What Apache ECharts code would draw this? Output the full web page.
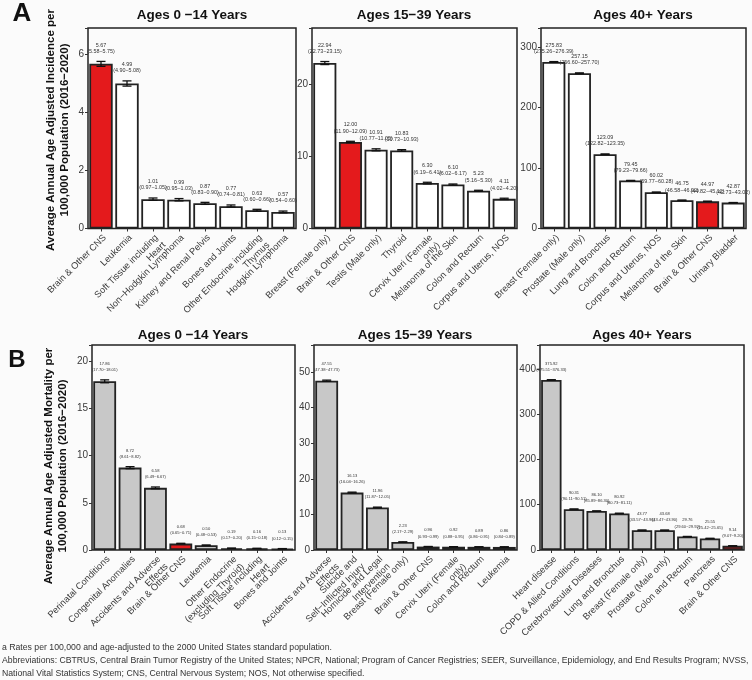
<!DOCTYPE html>
<html>
<head>
<meta charset="utf-8">
<script src="https://cdn.jsdelivr.net/npm/echarts@6/dist/echarts.min.js"></script>
<style>html,body{margin:0;padding:0;background:#fbfbfb;}#c{width:752px;height:680px;}</style>
</head>
<body>
<div id="c"></div>
<script>
// ---------- DATA ----------
const a1Cats = ['Brain & Other CNS','Leukemia','Soft Tissue including\nHeart','Non\u2212Hodgkin Lymphoma','Kidney and Renal Pelvis','Bones and Joints','Other Endocrine including\nThymus','Hodgkin Lymphoma'];
const a1Vals = [5.67,4.99,1.01,0.99,0.87,0.77,0.63,0.57];
const a1Lo   = [5.58,4.90,0.97,0.95,0.83,0.74,0.60,0.54];
const a1Hi   = [5.75,5.08,1.05,1.03,0.90,0.81,0.66,0.60];

const a2Cats = ['Breast (Female only)','Brain & Other CNS','Testis (Male only)','Thyroid','Cervix Uteri (Female\nonly)','Melanoma of the Skin','Colon and Rectum','Corpus and Uterus, NOS'];
const a2Vals = [22.94,12.00,10.91,10.83,6.30,6.10,5.23,4.11];
const a2Lo   = [22.73,11.90,10.77,10.73,6.19,6.02,5.16,4.02];
const a2Hi   = [23.15,12.09,11.05,10.93,6.41,6.17,5.30,4.20];

const a3Cats = ['Breast (Female only)','Prostate (Male only)','Lung and Bronchus','Colon and Rectum','Corpus and Uterus, NOS','Melanoma of the Skin','Brain & Other CNS','Urinary Bladder'];
const a3Vals = [275.83,257.15,123.09,79.45,60.02,46.75,44.97,42.87];
const a3Lo   = [275.26,256.60,122.82,79.23,59.77,46.58,44.82,42.73];
const a3Hi   = [276.39,257.70,123.35,79.66,60.28,46.92,45.12,43.02];

const b1Cats = ['Perinatal Conditions','Congenital Anomalies','Accidents and Adverse\nEffects','Brain & Other CNS','Leukemia','Other Endocrine\n(excluding Thyroid)','Soft Tissue including\nHeart','Bones and Joints'];
const b1Vals = [17.86,8.72,6.58,0.68,0.50,0.19,0.16,0.13];
const b1Lo   = [17.70,8.61,6.49,0.65,0.48,0.17,0.15,0.12];
const b1Hi   = [18.01,8.82,6.67,0.71,0.53,0.20,0.18,0.15];

const b2Cats = ['Accidents and Adverse\nEffects','Suicide and\nSelf\u2212Inflicted Injury','Homicide and Legal\nIntervention','Breast (Female only)','Brain & Other CNS','Cervix Uteri (Female\nonly)','Colon and Rectum','Leukemia'];
const b2Vals = [47.55,16.13,11.96,2.23,0.96,0.92,0.89,0.86];
const b2Lo   = [47.38,16.04,11.87,2.17,0.93,0.88,0.86,0.84];
const b2Hi   = [47.73,16.26,12.05,2.29,0.99,0.95,0.91,0.89];

const b3Cats = ['Heart disease','COPD & Allied Conditions','Cerebrovascular Diseases','Lung and Bronchus','Breast (Female only)','Prostate (Male only)','Colon and Rectum','Pancreas','Brain & Other CNS'];
const b3Vals = [375.92,90.31,86.10,80.92,43.77,43.68,29.76,25.55,9.14];
const b3Lo   = [375.51,90.11,85.89,80.73,43.57,43.47,29.60,25.42,9.07];
const b3Hi   = [376.33,90.51,86.30,81.11,43.96,43.90,29.92,25.65,9.20];

const highlightIdx = { a1: 0, a2: 1, a3: 6, b1: 3, b2: 4, b3: 8 };
const yTicksInterval = { a1: 2, a2: 10, a3: 100, b1: 5, b2: 10, b3: 100 };
const yMax = { a1: 6.9, a2: 27.8, a3: 332, b1: 21.7, b2: 57.6, b3: 453 };

const titleText = 'Ages 0 \u221214 Years';
const titleText2 = 'Ages 15\u221239 Years';
const titleText3 = 'Ages 40+ Years';

// ---------- LAYOUT ----------
const panels = [
  {key:'a1', cats:a1Cats, vals:a1Vals, lo:a1Lo, hi:a1Hi, left:88, top:28, width:208, height:200.5, fill:'#ffffff', lab:5.4, lh:6.2},
  {key:'a2', cats:a2Cats, vals:a2Vals, lo:a2Lo, hi:a2Hi, left:312, top:28, width:205, height:200.5, fill:'#ffffff', lab:5.4, lh:6.2},
  {key:'a3', cats:a3Cats, vals:a3Vals, lo:a3Lo, hi:a3Hi, left:541, top:28, width:205, height:200.5, fill:'#ffffff', lab:5.4, lh:6.2},
  {key:'b1', cats:b1Cats, vals:b1Vals, lo:b1Lo, hi:b1Hi, left:92, top:345, width:203, height:205, fill:'#c8c8c8', lab:4.1, lh:6.2},
  {key:'b2', cats:b2Cats, vals:b2Vals, lo:b2Lo, hi:b2Hi, left:314, top:345, width:203, height:205, fill:'#c8c8c8', lab:4.1, lh:6.2},
  {key:'b3', cats:b3Cats, vals:b3Vals, lo:b3Lo, hi:b3Hi, left:540, top:345, width:204, height:205, fill:'#c8c8c8', lab:4.1, lh:6.2}
];

const F = 'Liberation Sans, Arial, sans-serif';
const RED = '#e41a1c';
const grids = [], xAxes = [], yAxes = [], series = [];
panels.forEach((p, k) => {
  grids.push({left:p.left, top:p.top, width:p.width, height:p.height, show:true, borderColor:'#222', borderWidth:1.5, backgroundColor:'transparent', containLabel:false});
  xAxes.push({type:'category', gridIndex:k, data:p.cats,
    axisLine:{show:false}, axisTick:{show:true, alignWithLabel:true, length:3, lineStyle:{color:'#333'}},
    axisLabel:{rotate:45, interval:0, fontSize:9.3, color:'#3a3a3a', margin:4, lineHeight:10.5, verticalAlign:'top', fontFamily:F}});
  const iv = yTicksInterval[p.key];
  yAxes.push({type:'value', gridIndex:k, min:0, max:yMax[p.key], interval:iv,
    axisLine:{show:false}, splitLine:{show:false},
    axisTick:{show:true, length:3, lineStyle:{color:'#333'}},
    axisLabel:{fontSize:10, color:'#3a3a3a', margin:4, fontFamily:F,
      formatter: v => (Math.abs(v/iv - Math.round(v/iv)) < 1e-6 ? String(v) : '')}});
  const hl = highlightIdx[p.key];
  series.push({type:'bar', xAxisIndex:k, yAxisIndex:k, barCategoryGap:'10%',
    data:p.vals.map((v,i)=>({value:v, itemStyle:{color: i===hl ? RED : p.fill}})),
    itemStyle:{borderColor:'#222', borderWidth:1.8}, silent:true, animation:false});
  const labSize = p.lab, lh = p.lh;
  series.push({type:'custom', xAxisIndex:k, yAxisIndex:k, animation:false, silent:true, z:10,
    data:p.vals.map((v,i)=>[i, v, p.lo[i], p.hi[i]]),
    renderItem:(params, api)=>{
      const i = api.value(0);
      const v = api.value(1), lo = api.value(2), hi = api.value(3);
      const pl = api.coord([i, lo]);
      const ph = api.coord([i, hi]);
      const x = ph[0], cap = 4.5;
      const st = {stroke:'#111', lineWidth:1.3};
      return {type:'group', children:[
        {type:'line', shape:{x1:x, y1:pl[1], x2:x, y2:ph[1]}, style:st},
        {type:'line', shape:{x1:x-cap, y1:pl[1], x2:x+cap, y2:pl[1]}, style:st},
        {type:'line', shape:{x1:x-cap, y1:ph[1], x2:x+cap, y2:ph[1]}, style:st},
        {type:'text', x:x, y:ph[1]-7, style:{text: v.toFixed(2)+'\n('+lo.toFixed(2)+'\u2212'+hi.toFixed(2)+')',
          align:'center', verticalAlign:'bottom', fontSize:labSize, lineHeight:lh, fill:'#333', fontFamily:F}}
      ]};
    }});
});

const graphics = [
  {type:'text', x:22, y:14, style:{text:'A', font:'bold 26px '+F, fill:'#111', align:'center', verticalAlign:'middle'}},
  {type:'text', x:17, y:360, style:{text:'B', font:'bold 24px '+F, fill:'#111', align:'center', verticalAlign:'middle'}},
  {type:'text', x:192, y:15, style:{text:titleText, font:'bold 13.5px '+F, fill:'#111', align:'center', verticalAlign:'middle'}},
  {type:'text', x:414, y:15, style:{text:titleText2, font:'bold 13.5px '+F, fill:'#111', align:'center', verticalAlign:'middle'}},
  {type:'text', x:643, y:15, style:{text:titleText3, font:'bold 13.5px '+F, fill:'#111', align:'center', verticalAlign:'middle'}},
  {type:'text', x:193, y:335, style:{text:titleText, font:'bold 13.5px '+F, fill:'#111', align:'center', verticalAlign:'middle'}},
  {type:'text', x:415, y:335, style:{text:titleText2, font:'bold 13.5px '+F, fill:'#111', align:'center', verticalAlign:'middle'}},
  {type:'text', x:642, y:335, style:{text:titleText3, font:'bold 13.5px '+F, fill:'#111', align:'center', verticalAlign:'middle'}},
  {type:'text', x:57.5, y:130, rotation:Math.PI/2, style:{text:'Average Annual Age Adjusted Incidence per\n100,000 Population (2016\u22122020)', font:'bold 11.5px '+F, lineHeight:14, fill:'#111', align:'center', verticalAlign:'middle'}},
  {type:'text', x:56, y:466, rotation:Math.PI/2, style:{text:'Average Annual Age Adjusted Mortality per\n100,000 Population (2016\u22122020)', font:'bold 11.5px '+F, lineHeight:14, fill:'#111', align:'center', verticalAlign:'middle'}},
  {type:'text', x:2, y:648, style:{text:'a Rates per 100,000 and age-adjusted to the 2000 United States standard population.', font:'8.7px '+F, fill:'#333', verticalAlign:'middle'}},
  {type:'text', x:2, y:661, style:{text:'Abbreviations: CBTRUS, Central Brain Tumor Registry of the United States; NPCR, National; Program of Cancer Registries; SEER, Surveillance, Epidemiology, and End Results Program; NVSS,', font:'8.7px '+F, fill:'#333', verticalAlign:'middle'}},
  {type:'text', x:2, y:674, style:{text:'National Vital Statistics System; CNS, Central Nervous System; NOS, Not otherwise specified.', font:'8.7px '+F, fill:'#333', verticalAlign:'middle'}}
];

const chart = echarts.init(document.getElementById('c'));
chart.setOption({backgroundColor:'#fbfbfb', animation:false, grid:grids, xAxis:xAxes, yAxis:yAxes, series:series, graphic:graphics});
</script>
</body>
</html>
